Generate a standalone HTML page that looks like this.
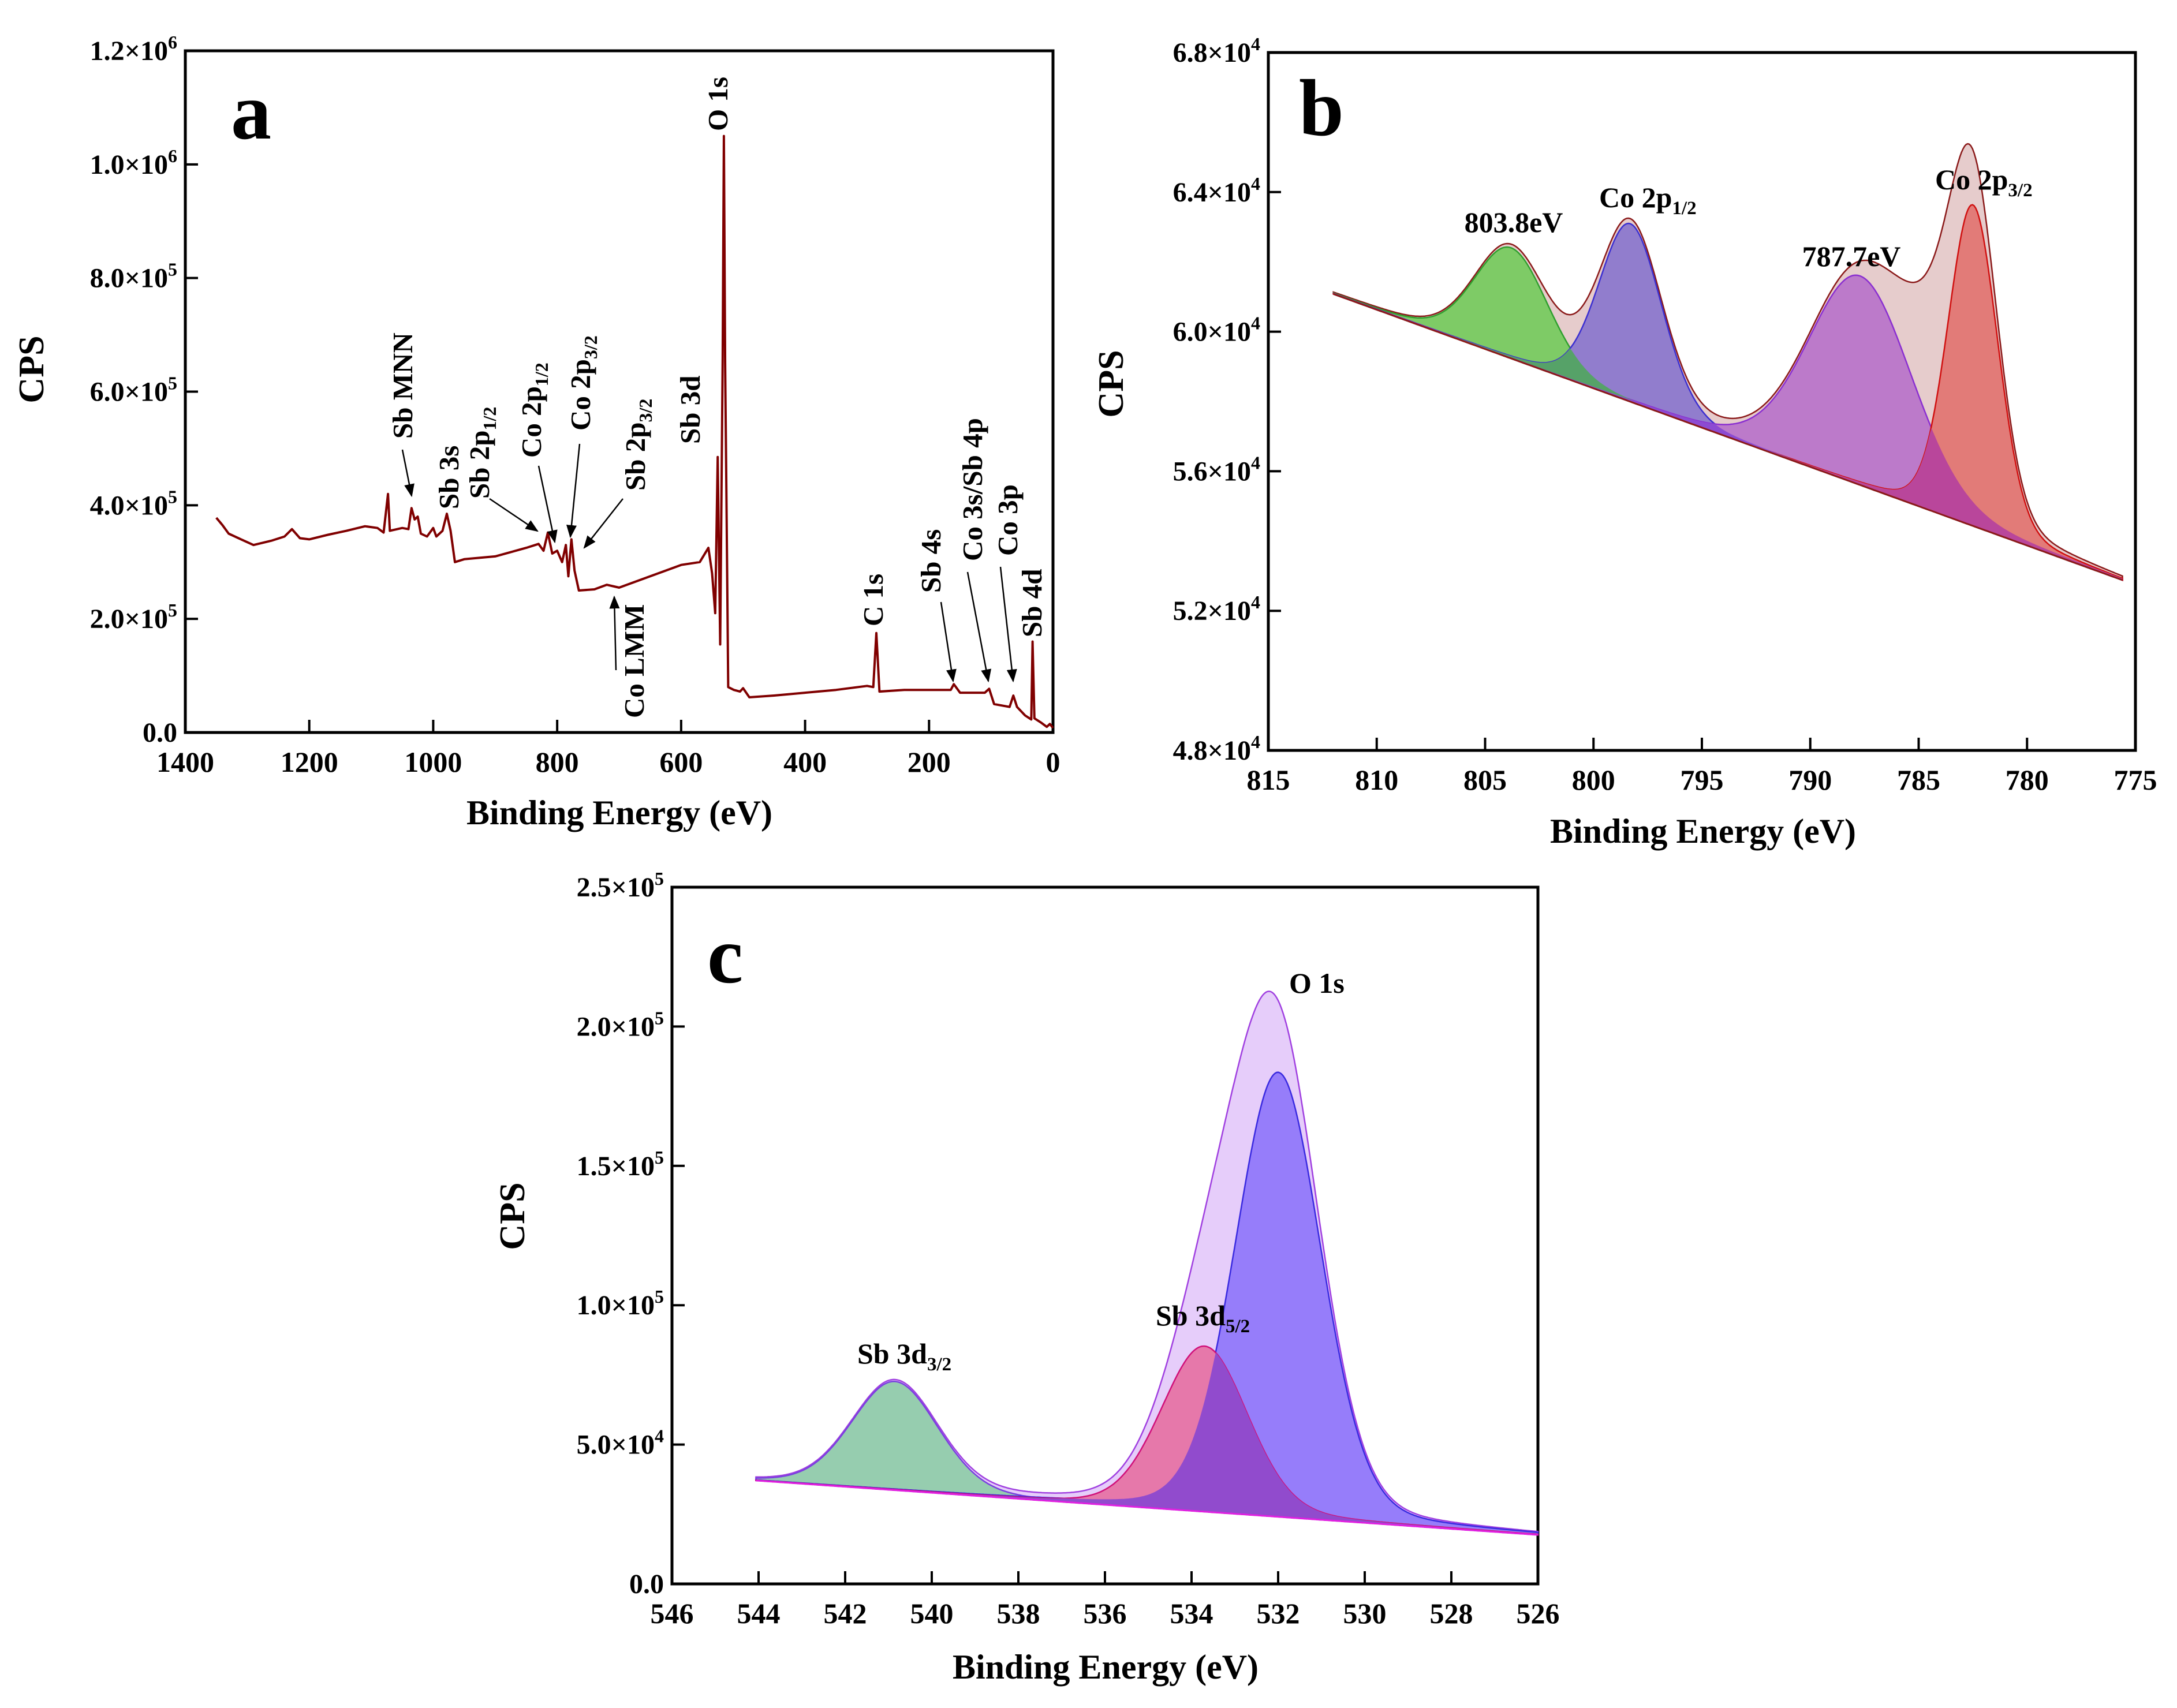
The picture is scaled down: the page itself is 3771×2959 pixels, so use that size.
<!DOCTYPE html>
<html><head><meta charset="utf-8"><style>
html,body{margin:0;padding:0;background:#fff;}
svg{display:block;font-family:"Liberation Serif",serif;font-weight:bold;}
</style></head><body>
<svg id="fig" xmlns="http://www.w3.org/2000/svg" width="3771" height="2959" viewBox="0 0 3771 2959">
<defs><marker id="ah" viewBox="0 0 10 10" refX="9" refY="5" markerWidth="9" markerHeight="9" orient="auto"><path d="M0,1 L10,5 L0,9 z" fill="#000"/></marker></defs>
<g id="pa"></g>
<g id="pb"></g>
<g id="pc"></g>
</svg>
<script>
// ---------- Panel a: survey data ----------
const surveyBE=[1350,1340,1330,1310,1290,1260,1240,1228,1215,1200,1170,1140,1110,1090,1080,1073,1070,1050,1040,1035,1030,1025,1020,1010,1000,995,985,978,972,965,950,900,850,830,822,815,808,800,792,786,782,777,772,765,740,720,700,650,600,570,556,550,545,541,537,533,531,529,527,524,515,505,500,490,450,400,350,300,290,285,280,240,200,165,160,150,110,103,95,70,64,58,45,35,33,30,20,10,5,0];
const surveyCPS=[378000,365000,350000,340000,330000,338000,345000,358000,342000,340000,348000,355000,363000,360000,352000,420000,355000,360000,358000,395000,375000,380000,350000,345000,360000,345000,355000,385000,355000,300000,305000,310000,325000,332000,320000,352000,315000,320000,300000,330000,275000,340000,285000,250000,252000,260000,255000,275000,295000,300000,325000,280000,210000,485000,155000,660000,1050000,650000,430000,80000,75000,72000,78000,62000,65000,70000,75000,82000,80000,175000,72000,75000,75000,75000,85000,70000,70000,77000,50000,45000,65000,45000,30000,23000,160000,25000,18000,10000,15000,8000];
const aXTicks=[1400,1200,1000,800,600,400,200,0];
const aYTicks=[0,200000,400000,600000,800000,1000000,1200000];
const aYTickLabels=["0.0","2.0×10^5","4.0×10^5","6.0×10^5","8.0×10^5","1.0×10^6","1.2×10^6"];

// ---------- Panel b: Co 2p fit ----------
const bXTicks=[815,810,805,800,795,790,785,780,775];
const bYTicks=[48000,52000,56000,60000,64000,68000];
const bYTickLabels=["4.8×10^4","5.2×10^4","5.6×10^4","6.0×10^4","6.4×10^4","6.8×10^4"];
const bBgBE=[812.0,775.6];
const bBgCPS=[61080,52880];
const bPeakCenters=[803.8,798.3,787.7,782.5,784.6];
const bPeakHeights=[3170,5100,5990,9200,2300];
const bPeakWidths=[1.7,1.45,2.4,1.15,1.5];

// ---------- Panel c: O 1s / Sb 3d fit ----------
const cXTicks=[546,544,542,540,538,536,534,532,530,528,526];
const cYTicks=[0,50000,100000,150000,200000,250000];
const cYTickLabels=["0.0","5.0×10^4","1.0×10^5","1.5×10^5","2.0×10^5","2.5×10^5"];
const cBgBE=[544.06,526.0];
const cBgCPS=[37100,17600];
const cPeakCenters=[540.85,532.0,533.7,532.7];
const cPeakHeights=[39000,159500,59400,14000];
const cPeakWidths=[1.0,1.0,1.0,1.0];

const NS="http://www.w3.org/2000/svg";
function mk(parent,tag,attrs,text){const e=document.createElementNS(NS,tag);for(const k in attrs)e.setAttribute(k,attrs[k]);if(text!==undefined)e.textContent=text;parent.appendChild(e);return e;}
function addRich(t,str,small,supDy,subDy){
  const m=str.match(/^([^\^_]*)([\^_])(.*)$/);
  if(!m){t.appendChild(document.createTextNode(str));return;}
  t.appendChild(document.createTextNode(m[1]));
  const sp=document.createElementNS(NS,'tspan');
  sp.setAttribute('dy',m[2]==='^'?-supDy:subDy);
  sp.setAttribute('font-size',small);
  sp.textContent=m[3];t.appendChild(sp);
}

function makeAxes(g,L,R,T,B,xmin,xmax,ymin,ymax,xt,yt,ytl,ytitleX,ytitleY,xtitleX,xtitleY){
  const sx=v=>L+(xmin-v)/(xmin-xmax)*(R-L);
  const sy=v=>B-(v-ymin)/(ymax-ymin)*(B-T);
  xt.forEach(v=>{
    const x=sx(v);
    const tk=mk(g,'line',{x1:x,x2:x,y1:B,y2:B-22,stroke:'#000','stroke-width':4});
    
    
    const lb=mk(g,'text',{x:x,y:B+68,'text-anchor':'middle','font-size':50},String(v));
    
    
  });
  yt.forEach((v,i)=>{
    const y=sy(v);
    const tk=mk(g,'line',{x1:L,x2:L+22,y1:y,y2:y,stroke:'#000','stroke-width':4});
    
    
    const lb=mk(g,'text',{x:L-14,y:y+16,'text-anchor':'end','font-size':48});
    addRich(lb,ytl[i],32,20,12);
    
    
  });
  const fr=mk(g,'rect',{x:L,y:T,width:R-L,height:B-T,fill:'none',stroke:'#000','stroke-width':5});
  
  
  const yl=mk(g,'text',{transform:`translate(${ytitleX},${ytitleY}) rotate(-90)`,'text-anchor':'middle','font-size':62},'CPS');
  
  
  const xl=mk(g,'text',{x:xtitleX,y:xtitleY,'text-anchor':'middle','font-size':60},'Binding Energy (eV)');
  
  
  return {sx,sy};
}

function pv(x,c,h,w){const d=x-c;const g=Math.exp(-d*d/(2*w*w));const gam=w*1.18;const l=1/(1+d*d/(gam*gam));return h*(0.85*g+0.15*l);}

function fitPanel(g,ax,bgBE,bgCPS){
  const N=500,grid=[];
  for(let i=0;i<=N;i++)grid.push(bgBE[0]+(bgBE[1]-bgBE[0])*i/N);
  const bg=x=>bgCPS[0]+(bgCPS[1]-bgCPS[0])*(x-bgBE[0])/(bgBE[1]-bgBE[0]);
  const base=grid.map(x=>ax.sx(x).toFixed(1)+','+ax.sy(bg(x)).toFixed(1)).reverse().join(' ');
  function area(fn,fill,stroke,name){
    const top=grid.map(x=>ax.sx(x).toFixed(1)+','+ax.sy(bg(x)+fn(x)).toFixed(1)).join(' ');
    const p=mk(g,'polygon',{points:top+' '+base,fill:fill,stroke:stroke,'stroke-width':stroke==='none'?0:2.5});
    
    
  }
  function baseline(color){
    const bl=mk(g,'polyline',{points:grid.map(x=>ax.sx(x).toFixed(1)+','+ax.sy(bg(x)).toFixed(1)).join(' '),fill:'none',stroke:color,'stroke-width':3});
    
    
  }
  return {area,baseline};
}

// ---- Panel a
(function(){
  const g=document.getElementById('pa');
  const ax=makeAxes(g,321,1824,88,1269,1400,0,0,1200000,aXTicks,aYTicks,aYTickLabels,75,640,1073,1428);
  const pts=surveyBE.map((b,i)=>ax.sx(b).toFixed(1)+','+ax.sy(surveyCPS[i]).toFixed(1)).join(' ');
  const pl=mk(g,'polyline',{points:pts,fill:'none',stroke:'#800000','stroke-width':4,'stroke-linejoin':'round'});
  
  
  const lt=mk(g,'text',{x:400,y:240,'font-size':140},'a');
  
  
  const labels=[["Sb MNN",714,760],["Sb 3s",794,882],["Sb 2p_1/2",847,864],["Co 2p_1/2",937,793],["Co 2p_3/2",1022,746],["Sb 2p_3/2",1117,850],["Sb 3d",1212,769],["O 1s",1260,227],["Co LMM",1115,1244],["C 1s",1529,1085],["Sb 4s",1629,1027],["Co 3s/Sb 4p",1701,972],["Co 3p",1762,963],["Sb 4d",1804,1104]];
  labels.forEach(l=>{
    const t=mk(g,'text',{transform:`translate(${l[1]},${l[2]}) rotate(-90)`,'font-size':49});
    addRich(t,l[0],32,18,12);
    
    
  });
  const arrows=[[697,779,713,859],[848,864,931,920],[933,807,961,939],[1004,769,988,930],[1079,864,1012,949],[1067,1161,1064,1034],[1630,1043,1651,1180],[1676,991,1712,1180],[1733,982,1755,1180]];
  arrows.forEach(a=>{
    const ln=mk(g,'line',{x1:a[0],y1:a[1],x2:a[2],y2:a[3],stroke:'#000','stroke-width':2.5,'marker-end':'url(#ah)'});
    
    
  });
})();

// ---- Panel b
(function(){
  const g=document.getElementById('pb');
  const ax=makeAxes(g,2197,3699,91,1300,815,775,48000,68000,bXTicks,bYTicks,bYTickLabels,1945,665,2950,1460);
  const f=fitPanel(g,ax,bBgBE,bBgCPS);
  const pk=k=>x=>pv(x,bPeakCenters[k],bPeakHeights[k],bPeakWidths[k]);
  f.area(x=>bPeakCenters.reduce((s,c,i)=>s+pv(x,c,bPeakHeights[i],bPeakWidths[i]),0),'#e6cccc','#8b1a1a','envelope-fill');
  f.area(pk(0),'rgb(126,203,102)','#2f9f2f','peak-803-8ev');
  f.area(pk(1),'rgb(145,125,205)','#3b2fd0','peak-co-2p12');
  f.area(pk(2),'rgb(188,122,202)','#8a2fd0','peak-787-7ev');
  f.area(pk(3),'rgb(226,123,120)','#d01010','peak-co-2p32');
  f.area(x=>Math.min(pk(0)(x),pk(1)(x)),'rgb(86,162,104)','none','overlap-green-blue');
  f.area(x=>Math.min(pk(1)(x),pk(2)(x)),'rgb(140,75,210)','none','overlap-blue-purple');
  f.area(x=>Math.min(pk(2)(x),pk(3)(x)),'rgb(185,70,155)','none','overlap-purple-red');
  f.baseline('#8b1a1a');
  const lt=mk(g,'text',{x:2250,y:234,'font-size':140},'b');
  
  
  [["803.8eV",2622,402,'middle'],["Co 2p_1/2",2770,359,'start'],["787.7eV",3207,461,'middle'],["Co 2p_3/2",3352,328,'start']].forEach(l=>{
    const t=mk(g,'text',{x:l[1],y:l[2],'text-anchor':l[3],'font-size':50});
    addRich(t,l[0],33,18,12);
    
    
  });
})();

// ---- Panel c
(function(){
  const g=document.getElementById('pc');
  const ax=makeAxes(g,1164,2664,1537,2744,546,526,0,250000,cXTicks,cYTicks,cYTickLabels,908,2107,1915,2908);
  const f=fitPanel(g,ax,cBgBE,cBgCPS);
  const pk=k=>x=>pv(x,cPeakCenters[k],cPeakHeights[k],cPeakWidths[k]);
  f.area(x=>cPeakCenters.reduce((s,c,i)=>s+pv(x,c,cPeakHeights[i],cPeakWidths[i]),0),'#e6cdfa','#a040e0','envelope-fill');
  f.area(pk(0),'rgb(150,205,175)','#7a3fe0','peak-sb-3d32');
  f.area(pk(1),'rgb(150,125,250)','#3a2ae0','peak-o-1s');
  f.area(pk(2),'rgb(230,120,170)','#d0107a','peak-sb-3d52');
  f.area(x=>Math.min(pk(1)(x),pk(2)(x)),'rgb(145,75,205)','none','overlap-o1s-sb3d52');
  f.baseline('#e020e0');
  const lt=mk(g,'text',{x:1225,y:1702,'font-size':140},'c');
  
  
  [["O 1s",2233,1720],["Sb 3d_5/2",2002,2296],["Sb 3d_3/2",1485,2362]].forEach(l=>{
    const t=mk(g,'text',{x:l[1],y:l[2],'font-size':50});
    addRich(t,l[0],33,18,12);
    
    
  });
})();
</script>
</body></html>
